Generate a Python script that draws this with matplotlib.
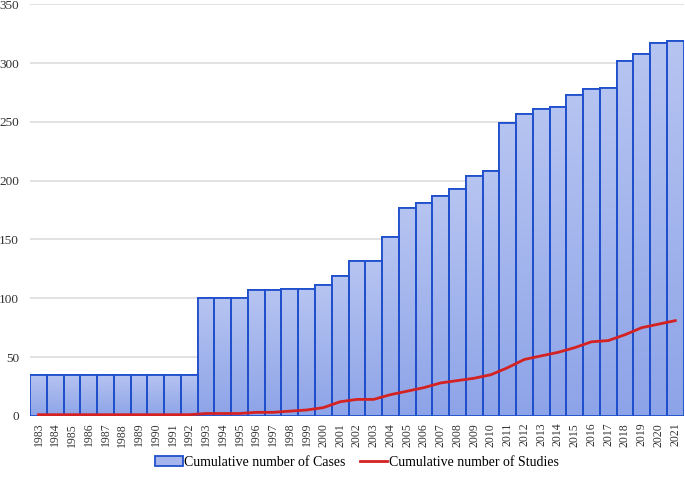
import numpy as np
import matplotlib.pyplot as plt
from matplotlib.colors import LinearSegmentedColormap

years = list(range(1983, 2022))
cases = [35, 35, 35, 35, 35, 35, 35, 35, 35, 35,
         100, 100, 100, 107, 107, 108, 108, 111, 119, 132,
         132, 152, 177, 181, 187, 193, 204, 208, 249, 257,
         261, 263, 273, 278, 279, 302, 308, 317, 319]
studies = [1, 1, 1, 1, 1, 1, 1, 1, 1, 1,
           2, 2, 2, 3, 3, 4, 5, 7, 12, 14,
           14, 18, 21, 24, 28, 30, 32, 35, 41, 48,
           51, 54, 58, 63, 64, 69, 75, 78, 81]
yticks = [0, 50, 100, 150, 200, 250, 300, 350]

plt.rcParams['font.family'] = ['Liberation Serif', 'DejaVu Serif']

fig = plt.figure(figsize=(6.85, 4.78), dpi=100)
ax = fig.add_axes([0.044, 0.13, 0.954, 0.861])

x = np.arange(len(years))
bars = ax.bar(x, cases, width=1.0, color='#a6b6ec', edgecolor='#1f4fcc', linewidth=1.3,
              label='Cumulative number of Cases', zorder=2)

# vertical gradient fill inside every bar (lighter at the top)
grad_cmap = LinearSegmentedColormap.from_list('barfill', ['#8ea4e8', '#b6c4f1'])
grad = np.linspace(0, 1, 100).reshape(-1, 1)
for b in bars:
    im = ax.imshow(grad, cmap=grad_cmap, origin='lower', aspect='auto', zorder=2.1,
                   extent=[b.get_x(), b.get_x() + b.get_width(), 0, b.get_height()])
    im.set_clip_path(b)
    ax.bar(b.get_x() + b.get_width() / 2, b.get_height(), width=1.0, color='none',
           edgecolor='#1f4fcc', linewidth=1.3, zorder=2.2)

line, = ax.plot(x, studies, color='#d42222', linewidth=2, label='Cumulative number of Studies', zorder=3)

ax.set_xlim(-0.5, len(years) - 0.5)
ax.set_ylim(0, 350)
ax.set_yticks(yticks)
ax.set_xticks(x)
ax.set_xticklabels(years, rotation=90, fontsize=8.5, color='#333333')
ax.tick_params(axis='y', labelsize=9.5, colors='#333333', length=0, pad=8)
ax.tick_params(axis='x', length=0, pad=5)
ax.grid(axis='y', color='#dddddd', linewidth=1.2, zorder=0)
ax.set_axisbelow(True)
for s in ax.spines.values():
    s.set_visible(False)

ax.legend([bars, line], ['Cumulative number of Cases', 'Cumulative number of Studies'],
          loc='lower center', bbox_to_anchor=(0.5, -0.16), ncol=2, frameon=False,
          fontsize=10, handlelength=2.0, handleheight=0.7, columnspacing=1.0,
          handletextpad=0.1)

plt.savefig('out.png', dpi=100)
